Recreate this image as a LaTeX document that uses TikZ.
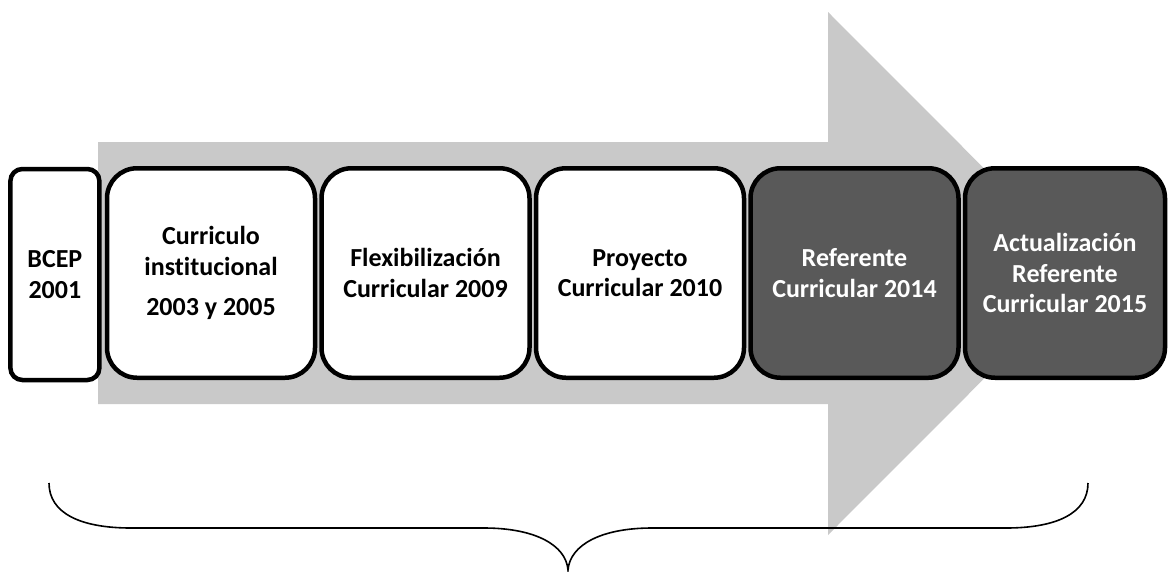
\documentclass[tikz,border=0pt]{standalone}
\usepackage{fontspec}
\setmainfont{Carlito}[Ligatures=NoCommon]
\usepackage{tikz}
\usetikzlibrary{positioning}
\definecolor{arrowGray}{HTML}{C9C9C9}
\definecolor{darkGray}{HTML}{595959}

\begin{document}
\begin{tikzpicture}[
  x=1pt,y=-1pt,
  node distance=6.5pt,
  period/.style={draw=black,line width=4.5pt,outer sep=0pt,rounded corners=30pt,fill=white,align=center,minimum width=208pt,minimum height=209.5pt,inner sep=0pt,font=\fontsize{26}{30.5}\selectfont\bfseries},
  recent/.style={period,fill=darkGray,text=white},
  brace/.style={draw=black,line width=1.6pt}
]
\useasboundingbox (0,0) rectangle (1170,571);
% flecha de fondo
\fill[arrowGray] (98,142) -- (828,142) -- (828,12) -- (1089,273.5) -- (828,535) -- (828,404) -- (98,404) -- cycle;
% etapas
\node[period,rounded corners=12pt,minimum width=89pt,minimum height=211pt] (bcep) at (54.9,274.5) {BCEP\\2001};
\node[period] (inst) at (211,273) {Curriculo\\institucional\\[10pt]2003 y 2005};
\node[period,right=of inst] (flex) {Flexibilización\\Curricular 2009};
\node[period,right=of flex] (proy) {Proyecto\\Curricular 2010};
\node[recent,right=of proy] (ref) {Referente\\Curricular 2014};
\node[recent,right=of ref,minimum width=200pt] (act) {Actualización\\Referente\\Curricular 2015};
% llave inferior
\coordinate (bl) at (49,483);
\coordinate (bm) at (568,570);
\coordinate (br) at (1088,483);
\draw[brace] (bl) .. controls (49,513) and (80,528) .. (131,528) -- (484,528)
  .. controls (535,528) and (566,545) .. (bm)
  .. controls (570,545) and (601,528) .. (652,528) -- (1006,528)
  .. controls (1057,528) and (1088,513) .. (br);
\end{tikzpicture}
\end{document}
